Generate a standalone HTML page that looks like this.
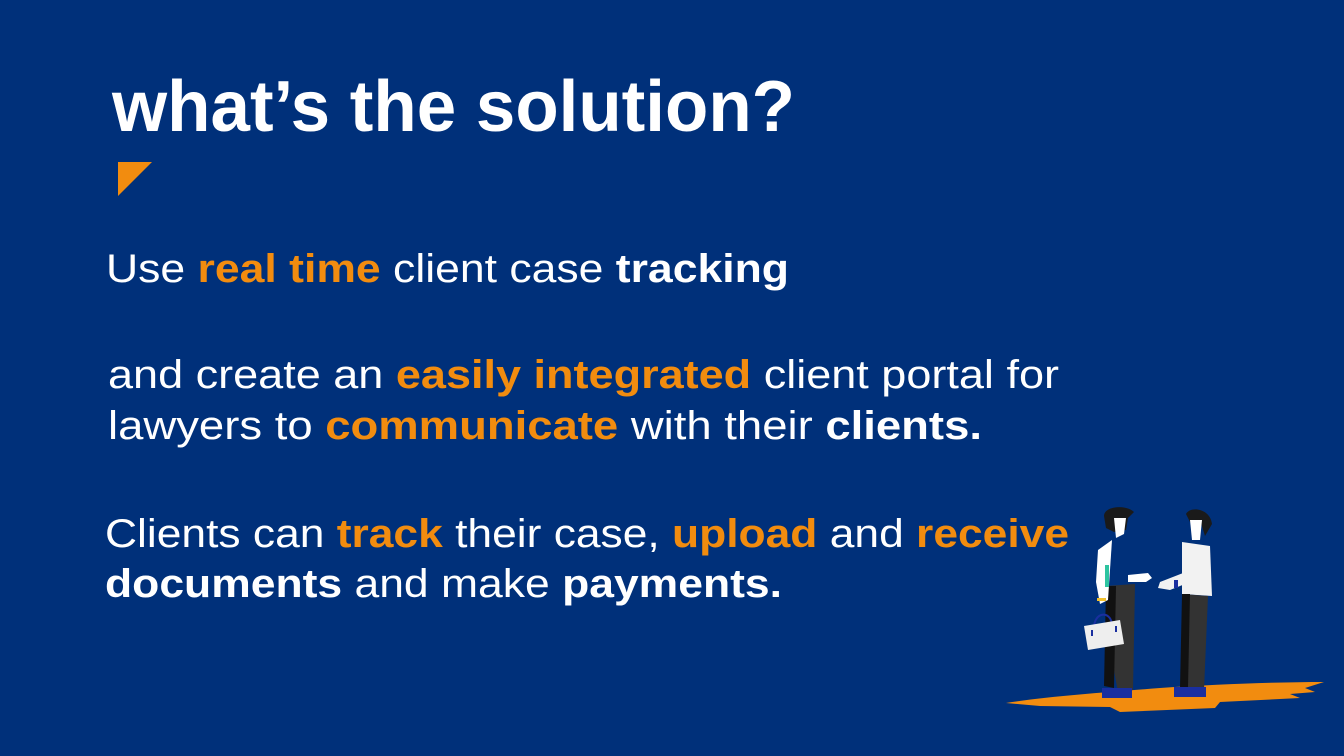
<!DOCTYPE html>
<html><head><meta charset="utf-8"><style>
html,body{margin:0;padding:0;background:#00307a;}
svg{display:block}
</style></head><body>
<svg width="1344" height="756" viewBox="0 0 1344 756" xmlns="http://www.w3.org/2000/svg">
<rect width="1344" height="756" fill="#00307a"/>
<g font-family="Liberation Sans, sans-serif" fill="#fff">
<text x="112" y="131" font-size="72" font-weight="bold" textLength="683" lengthAdjust="spacingAndGlyphs">what’s the solution?</text>
<g font-size="40">
<text x="106" y="282" textLength="683" lengthAdjust="spacingAndGlyphs">Use <tspan font-weight="bold" fill="#f28c0f">real time</tspan> client case <tspan font-weight="bold">tracking</tspan></text>
<text x="108" y="388" textLength="951" lengthAdjust="spacingAndGlyphs">and create an <tspan font-weight="bold" fill="#f28c0f">easily integrated</tspan> client portal for</text>
<text x="108" y="439" textLength="874" lengthAdjust="spacingAndGlyphs">lawyers to <tspan font-weight="bold" fill="#f28c0f">communicate</tspan> with their <tspan font-weight="bold">clients.</tspan></text>
<text x="105" y="547" textLength="964" lengthAdjust="spacingAndGlyphs">Clients can <tspan font-weight="bold" fill="#f28c0f">track</tspan> their case, <tspan font-weight="bold" fill="#f28c0f">upload</tspan> and <tspan font-weight="bold" fill="#f28c0f">receive</tspan></text>
<text x="105" y="597" textLength="677" lengthAdjust="spacingAndGlyphs"><tspan font-weight="bold">documents</tspan> and make <tspan font-weight="bold">payments.</tspan></text>
</g>
</g>
<polygon points="118,162 152,162 118,196" fill="#f28c0f"/>
<!-- ground -->
<path d="M1006,703 C1050,696 1110,692 1160,688 C1220,684 1280,682 1324,682 L1305,688 L1315,692 L1290,694 L1300,698 L1220,702 L1215,708 L1120,712 L1110,707 L1040,706 Z" fill="#f28c0f"/>
<!-- left man -->
<path d="M1104,516 C1104,506 1126,504 1134,512 L1128,518 L1126,530 L1114,532 L1106,528 Z" fill="#1a1a1a"/>
<path d="M1114,518 L1126,518 L1124,534 L1116,538 Z" fill="#fff"/>
<path d="M1108,540 L1124,536 L1132,586 L1108,588 Z" fill="#00307a"/>
<path d="M1106,586 L1135,584 L1133,690 L1118,692 L1112,660 Z" fill="#333"/>
<path d="M1106,586 L1116,586 L1114,688 L1104,686 Z" fill="#111"/>
<path d="M1098,550 L1112,540 L1108,600 L1100,604 L1096,582 Z" fill="#fff"/>
<rect x="1105" y="565" width="4" height="22" fill="#2ec4a0"/>
<rect x="1097" y="598" width="9" height="3" fill="#f2c12e"/>
<path d="M1128,575 L1148,573 L1152,578 L1146,582 L1128,582 Z" fill="#fff"/>
<path d="M1094,628 C1094,612 1110,610 1112,624" fill="none" stroke="#1a2fa0" stroke-width="2"/>
<path d="M1084,626 L1120,620 L1124,644 L1088,650 Z" fill="#eee"/>
<rect x="1091" y="630" width="2" height="6" fill="#1a2fa0"/>
<rect x="1115" y="626" width="2" height="6" fill="#1a2fa0"/>
<rect x="1102" y="688" width="30" height="10" fill="#1a2fa0"/>
<!-- right man -->
<path d="M1186,514 C1190,506 1210,508 1212,524 L1205,536 L1200,520 L1190,522 Z" fill="#1a1a1a"/>
<path d="M1190,520 L1202,520 L1200,540 L1192,540 Z" fill="#fff"/>
<path d="M1182,542 L1210,546 L1212,596 L1182,594 Z" fill="#f2f2f2"/>
<path d="M1160,582 L1196,568 L1200,578 L1170,590 L1158,588 Z" fill="#f2f2f2"/>
<rect x="1174" y="580" width="4" height="8" fill="#1a2fa0"/>
<path d="M1182,594 L1208,596 L1204,690 L1188,690 L1184,640 Z" fill="#333"/>
<path d="M1182,594 L1190,594 L1188,688 L1180,688 Z" fill="#111"/>
<rect x="1174" y="687" width="32" height="10" fill="#1a2fa0"/>
</svg>
</body></html>
